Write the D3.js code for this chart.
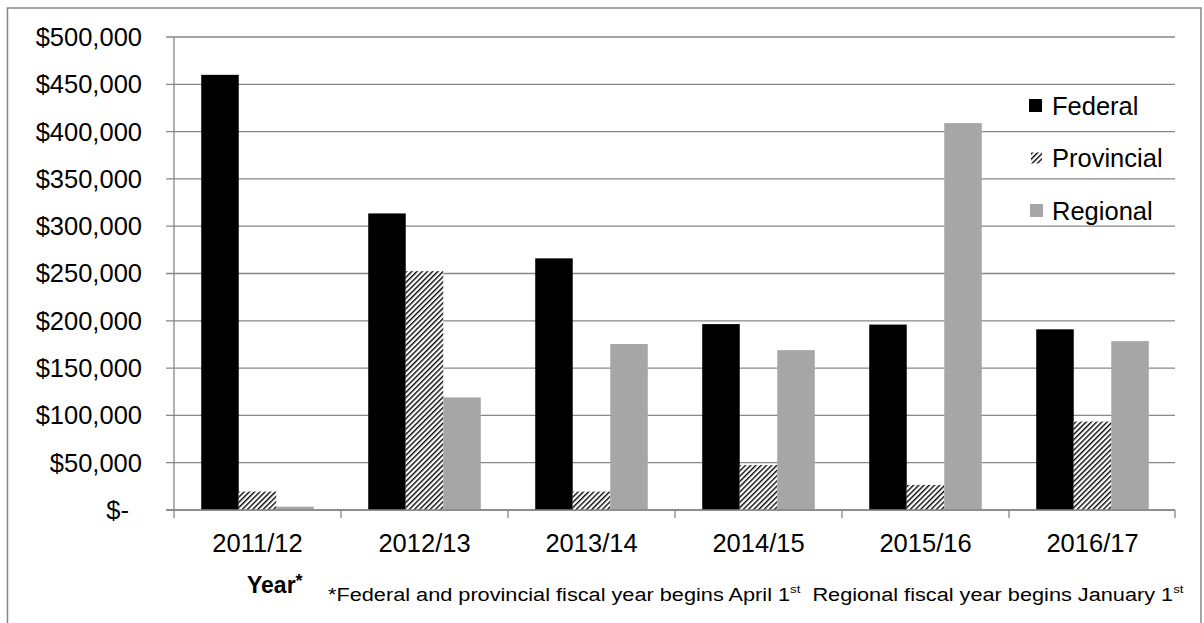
<!DOCTYPE html>
<html><head><meta charset="utf-8">
<script src="https://cdn.jsdelivr.net/npm/d3@7"></script>
<style>
html,body{margin:0;padding:0;background:#fff;}
svg{display:block;font-family:"Liberation Sans",Arial,sans-serif;}
</style></head>
<body>
<svg id="chart" width="1204" height="623"></svg>
<script>
const categories = ["2011/12","2012/13","2013/14","2014/15","2015/16","2016/17"];
const seriesNames = ["Federal","Provincial","Regional"];
const federal    = [460000, 313500, 266000, 196500, 196000, 191000];
const provincial = [19500, 252500, 19500, 47500, 26500, 93500];
const regional   = [3500, 119000, 175500, 169000, 409000, 178500];
const yTicks = [0,50000,100000,150000,200000,250000,300000,350000,400000,450000,500000];

const values = {Federal: federal, Provincial: provincial, Regional: regional};
const svg = d3.select("#chart");

// pattern for provincial (upward diagonal lines)
const defs = svg.append("defs");
const pat = defs.append("pattern").attr("id","hatch").attr("patternUnits","userSpaceOnUse")
  .attr("width",3.7).attr("height",3.7).attr("patternTransform","rotate(45)");
pat.append("rect").attr("width",3.7).attr("height",3.7).attr("fill","#fff");
pat.append("rect").attr("x",0).attr("y",0).attr("width",1.35).attr("height",3.7).attr("fill","#000");

const fills = {Federal:"#000", Provincial:"url(#hatch)", Regional:"#a6a6a6"};

// outer border
svg.append("rect").attr("x",7.5).attr("y",8).attr("width",1193.5).attr("height",630)
  .attr("fill","none").attr("stroke","#868686").attr("stroke-width",1.5);

const L = 174, R = 1176, T = 37, B = 510;
const x0 = d3.scaleBand().domain(categories).range([L,R]).paddingInner(0.326).paddingOuter(0.163);
const x1 = d3.scaleBand().domain(seriesNames).range([0,x0.bandwidth()]);
const y = d3.scaleLinear().domain([0,500000]).range([B,T]);

const gridColor = "#878787";
svg.append("g").selectAll("line").data(yTicks).join("line")
  .attr("x1",166).attr("x2",R-1).attr("y1",d=>y(d)).attr("y2",d=>y(d))
  .attr("stroke",gridColor).attr("stroke-width",1.3);

svg.append("line").attr("x1",L).attr("x2",L).attr("y1",T).attr("y2",B)
  .attr("stroke",gridColor).attr("stroke-width",1.3);

const bounds = categories.map((c,i)=>L + i*x0.step()).concat([R-1]);
svg.append("g").selectAll("line").data(bounds).join("line")
  .attr("x1",d=>d).attr("x2",d=>d).attr("y1",B).attr("y2",B+8)
  .attr("stroke",gridColor).attr("stroke-width",1.3);

const fmt = d3.format(",");
svg.append("g").selectAll("text").data(yTicks).join("text")
  .attr("x",d=> d===0 ? 129 : 142).attr("y",d=>y(d)).attr("dy","0.35em")
  .attr("text-anchor","end").attr("font-size",25.5).attr("fill","#000")
  .text(d=> d===0 ? "$-" : "$"+fmt(d));

const groups = svg.append("g").selectAll("g").data(categories).join("g")
  .attr("transform",d=>`translate(${x0(d)},0)`);
groups.selectAll("rect").data((c,i)=>seriesNames.map(s=>({s, v: values[s][i]}))).join("rect")
  .attr("x",d=>x1(d.s)).attr("width",x1.bandwidth())
  .attr("y",d=>y(d.v)).attr("height",d=>B - y(d.v))
  .attr("fill",d=>fills[d.s]);

svg.append("line").attr("x1",166).attr("x2",R-1).attr("y1",B).attr("y2",B)
  .attr("stroke",gridColor).attr("stroke-width",1.3);

svg.append("g").selectAll("text").data(categories).join("text")
  .attr("x",d=>x0(d)+x0.bandwidth()/2).attr("y",551.5)
  .attr("text-anchor","middle").attr("font-size",25.5).attr("fill","#000").text(d=>d);

// legend
const legY = [106,158.5,211];
const leg = svg.append("g").selectAll("g").data(seriesNames).join("g")
  .attr("transform",(d,i)=>`translate(0,${legY[i]})`);
leg.filter(d=>d!=="Provincial").append("rect").attr("x",d=> d==="Federal"?1029:1030).attr("y",-7).attr("width",13).attr("height",13)
  .attr("fill",d=>fills[d]);
leg.filter(d=>d==="Provincial").append("rect").attr("x",1031).attr("y",-6).attr("width",11).attr("height",11)
  .attr("fill","url(#hatch)");
leg.append("text").attr("x",1052).attr("y",0).attr("dy","0.35em")
  .attr("font-size",25.5).attr("fill","#000").text(d=>d);

// axis title
const yt = svg.append("text").attr("x",247).attr("y",593).attr("font-size",23).attr("font-weight","bold").attr("fill","#000");
yt.append("tspan").text("Year");
yt.append("tspan").attr("font-size",18).attr("dy",-6).text("*");

// footnote, condensed horizontally to the reference width
const fnG = svg.append("g");
const fn = fnG.append("text").attr("x",0).attr("y",0).attr("font-size",19).attr("fill","#000");
fn.append("tspan").text("*Federal and provincial fiscal year begins April 1");
fn.append("tspan").attr("font-size",11.5).attr("dy",-8).text("st");
fn.append("tspan").attr("dy",8).text("\u00a0\u00a0Regional fiscal year begins January 1");
fn.append("tspan").attr("font-size",11.5).attr("dy",-8).text("st");
const w = fn.node().getBBox().width;
fnG.attr("transform",`translate(328,601) scale(${857/w},1)`);
</script>
</body></html>
